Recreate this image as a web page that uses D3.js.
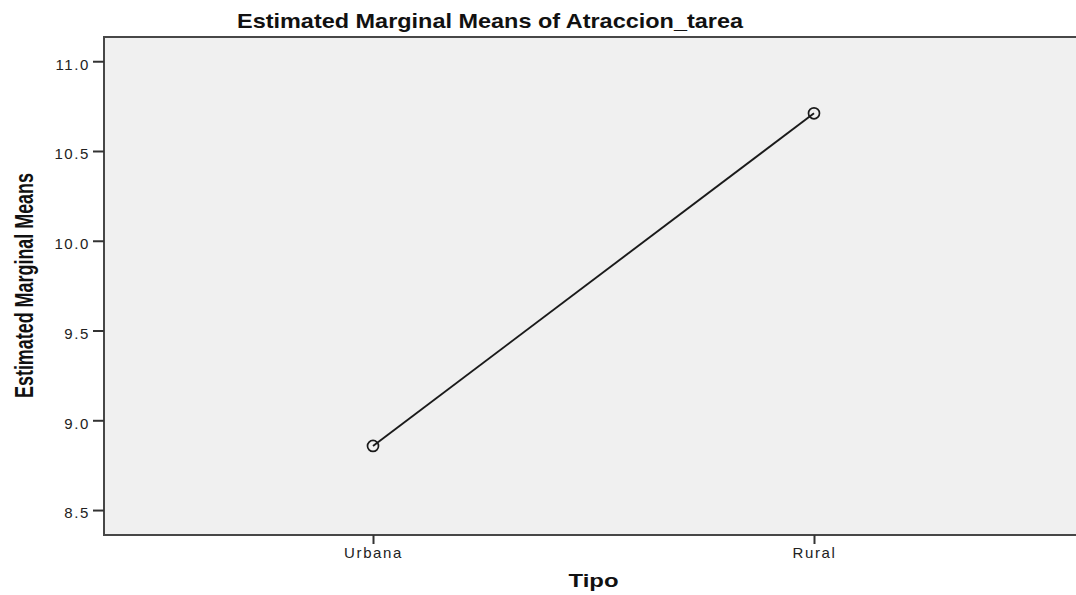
<!DOCTYPE html>
<html>
<head>
<meta charset="utf-8">
<script src="https://cdn.jsdelivr.net/npm/d3@7"></script>
<style>
  html, body { margin: 0; background: #fff; overflow: hidden; }
  text { font-family: "Liberation Sans", Arial, sans-serif; }
</style>
</head>
<body>
<div id="chart"></div>
<script>
var categories = ["Urbana", "Rural"];
var means = [8.857, 10.71];
var yTicks = [8.5, 9.0, 9.5, 10.0, 10.5, 11.0];
var yDomain = [8.361, 11.135];

// drawn a bit wider than the window: the original is cut off on the right
var svgWidth = 1120;
var svgHeight = 595;

var plot = { left: 104, right: 1083, top: 37, bottom: 535 };

var svg = d3.select("#chart").append("svg")
    .attr("width", svgWidth)
    .attr("height", svgHeight)
    .style("display", "block");

var xScale = d3.scalePoint()
  .domain(categories)
  .range([plot.left, plot.right])
  .padding(0.61);

var yScale = d3.scaleLinear()
  .domain(yDomain)
  .range([plot.bottom, plot.top]);

svg.append("rect")
  .attr("x", plot.left)
  .attr("y", plot.top)
  .attr("width", plot.right - plot.left + 60)
  .attr("height", plot.bottom - plot.top)
  .attr("fill", "#f0f0f0")
  .attr("stroke", "#474747")
  .attr("stroke-width", 2);

// y axis
var yAxis = d3.axisLeft(yScale)
  .tickValues(yTicks)
  .tickFormat(d3.format(".1f"))
  .tickSize(11)
  .tickSizeOuter(0);

var yG = svg.append("g")
  .attr("transform", `translate(${plot.left}, 0)`)
  .call(yAxis);
yG.select(".domain").remove();
yG.selectAll(".tick line").attr("stroke", "#333").attr("stroke-width", 2);
yG.selectAll(".tick text")
  .attr("x", -14)
  .attr("dy", "0.52em")
  .style("font-size", "15px")
  .style("letter-spacing", "1.6px")
  .style("font-family", "'Liberation Sans', Arial, sans-serif")
  .attr("fill", "#222");

// x axis
var xAxis = d3.axisBottom(xScale)
  .tickSize(9)
  .tickSizeOuter(0);

var xG = svg.append("g")
  .attr("transform", `translate(0, ${plot.bottom})`)
  .call(xAxis);
xG.select(".domain").remove();
xG.selectAll(".tick line").attr("stroke", "#333").attr("stroke-width", 2);
xG.selectAll(".tick text")
  .attr("y", 12)
  .attr("dy", "0.71em")
  .style("font-size", "15px")
  .style("letter-spacing", "1.6px")
  .style("font-family", "'Liberation Sans', Arial, sans-serif")
  .attr("fill", "#222");

// line + markers
var pts = categories.map(function(c, i) { return { cat: c, val: means[i] }; });

var line = d3.line()
  .x(function(d) { return xScale(d.cat); })
  .y(function(d) { return yScale(d.val); });

svg.append("path")
  .datum(pts)
  .attr("d", line)
  .attr("fill", "none")
  .attr("stroke", "#1a1a1a")
  .attr("stroke-width", 1.9);

svg.selectAll(".pt")
  .data(pts)
  .enter()
  .append("circle")
    .attr("class", "pt")
    .attr("cx", function(d) { return xScale(d.cat); })
    .attr("cy", function(d) { return yScale(d.val); })
    .attr("r", 5.5)
    .attr("fill", "none")
    .attr("stroke", "#1a1a1a")
    .attr("stroke-width", 1.7);

// titles
svg.append("text")
  .attr("x", 490)
  .attr("y", 28)
  .attr("text-anchor", "middle")
  .attr("textLength", 506)
  .attr("lengthAdjust", "spacingAndGlyphs")
  .style("font-size", "21px")
  .style("font-weight", "bold")
  .attr("fill", "#111")
  .text("Estimated Marginal Means of Atraccion_tarea");

svg.append("text")
  .attr("x", (plot.left + plot.right) / 2)
  .attr("y", 587)
  .attr("text-anchor", "middle")
  .attr("textLength", 50)
  .attr("lengthAdjust", "spacingAndGlyphs")
  .style("font-size", "18px")
  .style("font-weight", "bold")
  .attr("fill", "#111")
  .text("Tipo");

svg.append("text")
  .attr("transform", "translate(33, 285.5) rotate(-90)")
  .attr("text-anchor", "middle")
  .attr("textLength", 225)
  .attr("lengthAdjust", "spacingAndGlyphs")
  .style("font-family", "'Liberation Sans Narrow', 'Liberation Sans', Arial, sans-serif")
  .style("font-size", "25px")
  .style("font-weight", "bold")
  .attr("fill", "#111")
  .text("Estimated Marginal Means");
</script>
</body>
</html>
